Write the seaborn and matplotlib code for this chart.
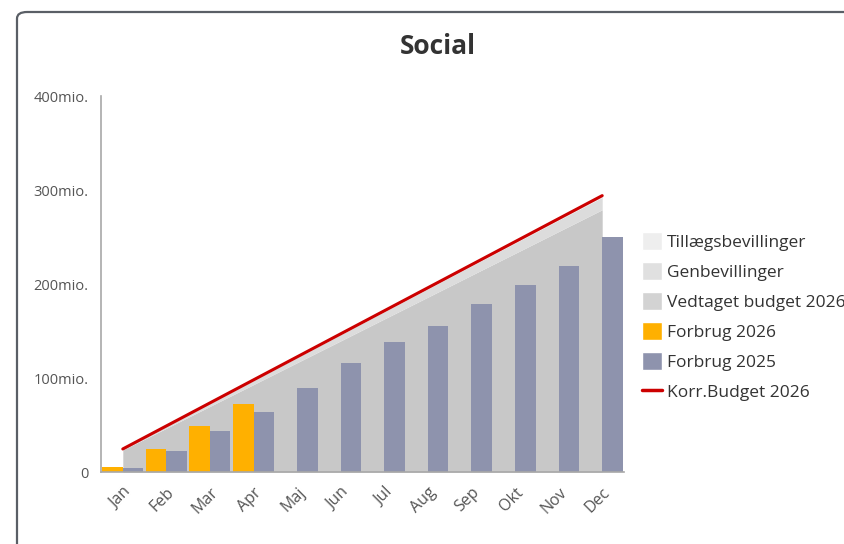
import numpy as np
import pandas as pd
import seaborn as sns
import matplotlib.pyplot as plt
from matplotlib.patches import Patch, FancyBboxPatch
from matplotlib.lines import Line2D

# data (mio. kr, cumulative per month)
months = ["Jan", "Feb", "Mar", "Apr", "Maj", "Jun", "Jul", "Aug", "Sep", "Okt", "Nov", "Dec"]
forbrug_2026 = [5.6, 25, 49, 72, None, None, None, None, None, None, None, None]
forbrug_2025 = [4, 22, 44, 64, 89, 116, 138, 155, 179, 199, 219, 250]
vedtaget_2026 = [23.3, 46.5, 69.8, 93, 116.3, 139.5, 162.8, 186, 209.3, 232.5, 255.8, 279]
genbevillinger = [1.1, 2.2, 3.3, 4.4, 5.5, 6.6, 7.7, 8.8, 9.9, 11, 12.1, 13.2]
tillaeg = [0.1, 0.3, 0.4, 0.6, 0.7, 0.9, 1.0, 1.2, 1.3, 1.5, 1.6, 1.8]
korr_budget_2026 = [24.5, 49, 73.5, 98, 122.5, 147, 171.5, 196, 220.5, 245, 269.5, 294]

sns.set_style("white")
plt.rcParams['font.family'] = ['Open Sans', 'DejaVu Sans']

fig = plt.figure(figsize=(8.45, 5.44), dpi=100)
ax = fig.add_axes([101 / 845, 72 / 544, 523 / 845, 376 / 544])

# card border
card = FancyBboxPatch((17 / 845, -0.2), 1.2, 1.2 - 12 / 544,
                      boxstyle="round,pad=0,rounding_size=0.012",
                      transform=fig.transFigure, facecolor="white",
                      edgecolor="#5a5f66", linewidth=1.6, zorder=-10)
fig.patches.append(card)

x = np.arange(len(months))
ax.stackplot(x, vedtaget_2026, genbevillinger, tillaeg,
             colors=["#c8c8c8", "#dcdcdc", "#ececec"], zorder=1, linewidth=0)

df = pd.DataFrame({
    "month": months * 2,
    "value": forbrug_2026 + forbrug_2025,
    "serie": ["Forbrug 2026"] * 12 + ["Forbrug 2025"] * 12,
})
sns.barplot(data=df, x="month", y="value", hue="serie",
            hue_order=["Forbrug 2026", "Forbrug 2025"],
            palette={"Forbrug 2026": "#ffb000", "Forbrug 2025": "#8e93ad"},
            width=0.94, saturation=1, legend=False, linewidth=0,
            ax=ax, zorder=2)

sns.lineplot(x=x, y=korr_budget_2026, color="#cc0000", linewidth=2.2, ax=ax, zorder=3)

ax.set_xlim(-0.5, 11.5)
ax.set_ylim(0, 400)
ax.set_yticks([0, 100, 200, 300, 400])
ax.set_yticklabels(["0", "100mio.", "200mio.", "300mio.", "400mio."])
ax.set_xlabel("")
ax.set_ylabel("")
ax.set_facecolor("none")
sns.despine(ax=ax)
for s in ["left", "bottom"]:
    ax.spines[s].set_color("#a8a8a8")
    ax.spines[s].set_linewidth(1.2)
ax.tick_params(axis="both", which="both", length=6, width=1.2, color="#a8a8a8",
               labelcolor="#555555")
ax.tick_params(axis="y", labelsize=10.5, pad=3)
ax.tick_params(axis="x", labelsize=11.5, pad=3)
plt.setp(ax.get_xticklabels(), rotation=45, ha="right", rotation_mode="anchor")

fig.text(438 / 845, 1 - 47 / 544, "Social", ha="center", va="center",
         fontsize=19, fontweight="bold", color="#333333")

handles = [
    Patch(facecolor="#eeeeee", label="Tillægsbevillinger"),
    Patch(facecolor="#e0e0e0", label="Genbevillinger"),
    Patch(facecolor="#d3d3d3", label="Vedtaget budget 2026"),
    Patch(facecolor="#ffb000", label="Forbrug 2026"),
    Patch(facecolor="#8e93ad", label="Forbrug 2025"),
    Line2D([0], [0], color="#cc0000", linewidth=2.5, label="Korr.Budget 2026"),
]
fig.legend(handles=handles, loc="upper left", bbox_to_anchor=(642 / 845, 1 - 232 / 544),
           frameon=False, fontsize=12.5, handlelength=1.15, handleheight=1.2,
           handletextpad=0.3, labelspacing=0.65, labelcolor="#333333",
           borderaxespad=0, borderpad=0)

fig.savefig("out.png", dpi=100)
